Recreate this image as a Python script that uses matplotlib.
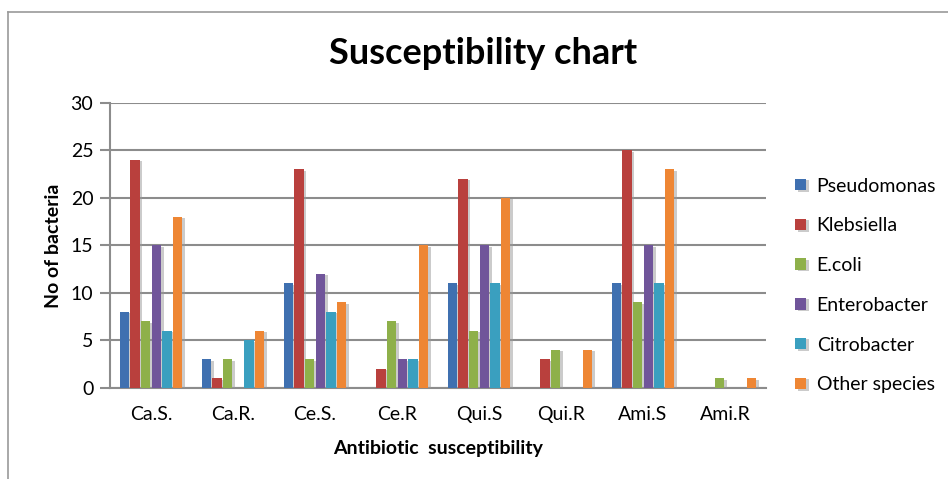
import numpy as np
import matplotlib.pyplot as plt
import matplotlib.patheffects as pe
from matplotlib.lines import Line2D

categories = ['Ca.S.', 'Ca.R.', 'Ce.S.', 'Ce.R', 'Qui.S', 'Qui.R', 'Ami.S', 'Ami.R']
series_names = ['Pseudomonas', 'Klebsiella', 'E.coli', 'Enterobacter', 'Citrobacter', 'Other species']
pseudomonas = [8, 3, 11, 0, 11, 0, 11, 0]
klebsiella = [24, 1, 23, 2, 22, 3, 25, 0]
ecoli = [7, 3, 3, 7, 6, 4, 9, 1]
enterobacter = [15, 0, 12, 3, 15, 0, 15, 0]
citrobacter = [6, 5, 8, 3, 11, 0, 11, 0]
other_species = [18, 6, 9, 15, 20, 4, 23, 1]

series = [pseudomonas, klebsiella, ecoli, enterobacter, citrobacter, other_species]
colors = ['#3F70B0', '#B9403D', '#8EB04A', '#70559A', '#3A9FBF', '#EE8634']

plt.rcParams['font.family'] = ['Lato', 'DejaVu Sans']

fig = plt.figure(figsize=(9.48, 4.79), dpi=100)
ax = fig.add_axes([0.116, 0.19, 0.692, 0.595])

x = np.arange(len(categories))
width = 0.13
shadow = [pe.SimplePatchShadow(offset=(2, -1), shadow_rgbFace='#999999', alpha=0.5), pe.Normal()]
for i, (vals, name, c) in enumerate(zip(series, series_names, colors)):
    pos = x + (i - 2.5) * width
    bars = ax.bar(pos, vals, width * 0.88, color=c, label=name, zorder=3)
    for b in bars:
        b.set_path_effects(shadow)

ax.set_xlim(-0.5, len(categories) - 0.5)
ax.set_ylim(0, 30)
ax.set_yticks(range(0, 31, 5))
ax.set_xticks(x)
ax.set_xticklabels(categories)
ax.yaxis.grid(True, color='#8c8c8c', linewidth=1.5, zorder=0)
ax.set_axisbelow(True)
for side in ['top', 'right']:
    ax.spines[side].set_visible(False)
for side in ['left', 'bottom']:
    ax.spines[side].set_color('#8c8c8c')
    ax.spines[side].set_linewidth(1.5)
ax.tick_params(axis='y', length=7, color='#8c8c8c', width=1.5, labelsize=14, pad=5)
ax.tick_params(axis='x', length=0, labelsize=14, pad=13)

ax.set_xlabel('Antibiotic  susceptibility', fontsize=14, fontweight='bold', labelpad=12)
ax.set_ylabel('No of bacteria', fontsize=14, fontweight='bold', labelpad=6)
fig.text(0.51, 0.888, 'Susceptibility chart', ha='center', va='center',
         fontsize=26, fontweight='bold')

leg = ax.legend(loc='center left', bbox_to_anchor=(1.018, 0.36), frameon=False,
                fontsize=14, handlelength=0.55, handleheight=0.55, labelspacing=1.17,
                handletextpad=0.55)

# outer chart frame (partly cropped)
fig.add_artist(Line2D([8 / 948, 8 / 948], [0, 1 - 12 / 479], transform=fig.transFigure,
                      color='#9a9a9a', linewidth=1.2))
fig.add_artist(Line2D([8 / 948, 1], [1 - 12 / 479, 1 - 12 / 479], transform=fig.transFigure,
                      color='#9a9a9a', linewidth=1.2))

fig.savefig('out.png', dpi=100)
